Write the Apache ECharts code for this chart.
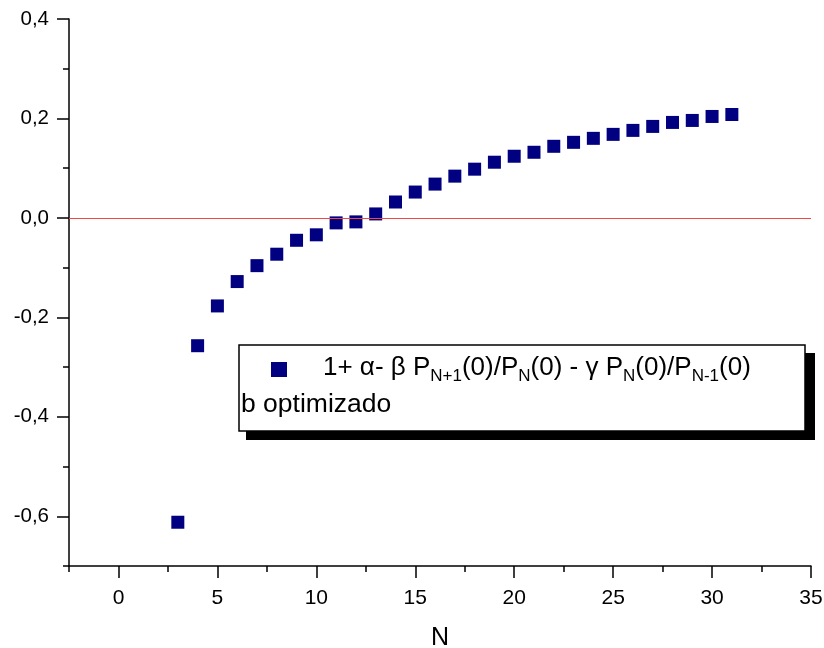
<!DOCTYPE html>
<html>
<head>
<meta charset="utf-8">
<script src="https://cdn.jsdelivr.net/npm/echarts@6/dist/echarts.min.js"></script>
<style>html,body{margin:0;padding:0;background:#fff}#c{width:824px;height:648px}</style>
</head>
<body>
<div id="c"></div>
<script>
const nValues = [3,4,5,6,7,8,9,10,11,12,13,14,15,16,17,18,19,20,21,22,23,24,25,26,27,28,29,30,31];
const ratioValues = [-0.612,-0.257,-0.177,-0.128,-0.096,-0.073,-0.045,-0.034,-0.010,-0.008,0.008,0.032,0.052,0.068,0.084,0.098,0.112,0.124,0.132,0.144,0.152,0.160,0.168,0.176,0.184,0.192,0.196,0.204,0.208];
const xMajorTicks = [0,5,10,15,20,25,30,35];
const xMinorTicks = [-2.5,2.5,7.5,12.5,17.5,22.5,27.5,32.5];
const yMajorTicks = [-0.6,-0.4,-0.2,0,0.2,0.4];
const yMinorTicks = [-0.7,-0.5,-0.3,-0.1,0.1,0.3];
const seriesName = '1+ α- β PN+1(0)/PN(0) - γ PN(0)/PN-1(0)';
const legendSubtitle = 'b optimizado';

const FONT = '"Liberation Sans", Arial, sans-serif';
const chart = echarts.init(document.getElementById('c'), null, {renderer: 'canvas'});
const axisLineStyle = {color: '#000', width: 1.5};
chart.setOption({
  animation: false,
  backgroundColor: '#fff',
  grid: {left: 69, right: 13, top: 19, bottom: 82, containLabel: false, outerBoundsMode: 'none'},
  xAxis: [
    {type: 'value', min: -2.5, max: 35, interval: 2.5, position: 'bottom',
     name: 'N', nameLocation: 'middle', nameGap: 60,
     nameTextStyle: {fontFamily: FONT, fontSize: 25, color: '#000'},
     axisLine: {show: true, onZero: false, lineStyle: axisLineStyle},
     axisTick: {show: true, length: 12, lineStyle: {color: '#000', width: 1.5}, customValues: xMajorTicks},
     axisLabel: {show: true, margin: 22, fontFamily: FONT, fontSize: 21, color: '#000', customValues: xMajorTicks},
     splitLine: {show: false}},
    {type: 'value', min: -2.5, max: 35, interval: 2.5, position: 'bottom',
     axisLine: {show: false, onZero: false},
     axisTick: {show: true, length: 6, lineStyle: {color: '#000', width: 1.5}, customValues: xMinorTicks},
     axisLabel: {show: false},
     splitLine: {show: false}}
  ],
  yAxis: [
    {type: 'value', min: -0.7, max: 0.4, interval: 0.1, position: 'left',
     axisLine: {show: true, onZero: false, lineStyle: axisLineStyle},
     axisTick: {show: true, length: 12, lineStyle: {color: '#000', width: 1.5}, customValues: yMajorTicks},
     axisLabel: {show: true, margin: 20, fontFamily: FONT, fontSize: 20.5, color: '#000', customValues: yMajorTicks,
       formatter: v => v.toFixed(1).replace('.', ',').replace('-0,0','0,0')},
     splitLine: {show: false}},
    {type: 'value', min: -0.7, max: 0.4, interval: 0.1, position: 'left',
     axisLine: {show: false, onZero: false},
     axisTick: {show: true, length: 6, lineStyle: {color: '#000', width: 1.5}, customValues: yMinorTicks},
     axisLabel: {show: false},
     splitLine: {show: false}}
  ],
  series: [{
    name: seriesName,
    type: 'scatter',
    xAxisIndex: 0, yAxisIndex: 0,
    symbol: 'rect',
    symbolSize: 13,
    itemStyle: {color: '#000080', opacity: 1},
    data: nValues.map((n, i) => [n, ratioValues[i]]),
    markLine: {
      silent: true, symbol: 'none', animation: false,
      label: {show: false},
      lineStyle: {color: '#f04848', width: 1.2, type: 'solid', opacity: 1},
      data: [{yAxis: 0}]
    },
    z: 3
  }],
  graphic: [
    {type: 'rect', z: 10, shape: {x: 246, y: 353, width: 569, height: 87}, style: {fill: '#000'}},
    {type: 'rect', z: 11, shape: {x: 239, y: 345, width: 566, height: 86}, style: {fill: '#fff', stroke: '#000', lineWidth: 1.5}},
    {type: 'rect', z: 12, shape: {x: 271, y: 362, width: 16, height: 15}, style: {fill: '#000080'}},
    {type: 'text', z: 12, x: 323, y: 368,
     style: {
       text: '{n|1+ α- β P}{s|N+1}{n|(0)/P}{s|N}{n|(0) - γ P}{s|N}{n|(0)/P}{s|N-1}{n|(0)}',
       verticalAlign: 'middle', align: 'left',
       rich: {
         n: {fontFamily: FONT, fontSize: 26, lineHeight: 34, fill: '#000'},
         s: {fontFamily: FONT, fontSize: 17, lineHeight: 12, verticalAlign: 'bottom', fill: '#000'}
       }
     }},
    {type: 'text', z: 12, x: 241, y: 405,
     style: {text: legendSubtitle, fontFamily: FONT, fontSize: 26.5, fill: '#000', verticalAlign: 'middle', align: 'left'}}
  ]
});
</script>
</body>
</html>
